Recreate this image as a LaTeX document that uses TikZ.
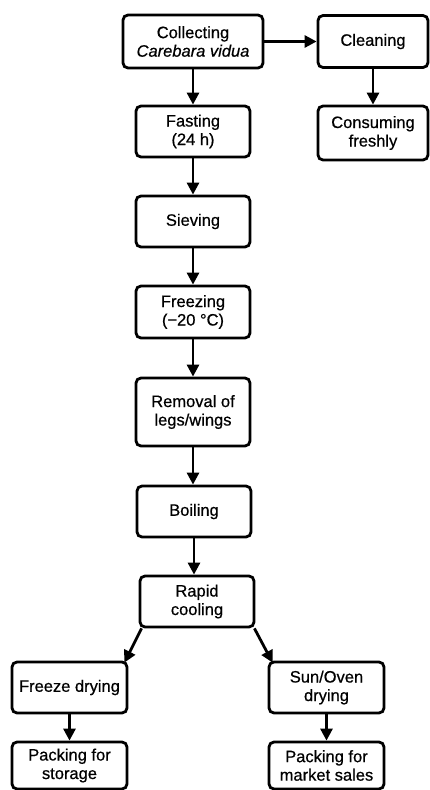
\documentclass[tikz,border=0pt]{standalone}
\usepackage{fontspec}
\setmainfont[FakeBold=0.6,AutoFakeBold=0.6]{Liberation Sans}
\newfontfamily\boxfont[FakeBold=0.6,AutoFakeSlant=0.2]{Liberation Sans}
\usetikzlibrary{arrows.meta}
\begin{document}
\begin{tikzpicture}[x=1pt,y=-1pt,
 box/.style={draw,line width=2.8pt,rounded corners=5pt,align=center,
   font=\fontsize{16.5}{18.5}\selectfont\bfseries,inner sep=0pt},
 arr/.style={line width=2.8pt,-{Triangle[length=12pt,width=12pt]}}]
\useasboundingbox (0,0) rectangle (430,790);
\node[box,minimum width=140,minimum height=53] (collect) at (193,41.5) {Collecting\\\textit{Carebara vidua}};
\node[box,minimum width=110,minimum height=52] (clean) at (373,41.5) {Cleaning};
\node[box,minimum width=110,minimum height=54] (consume) at (373,133) {Consuming\\freshly};
\node[box,minimum width=114,minimum height=51] (fast) at (193,131.5) {Fasting\\(24 h)};
\node[box,minimum width=114,minimum height=51] (sieve) at (193,221.5) {Sieving};
\node[box,minimum width=114,minimum height=52] (freeze) at (193,312) {Freezing\\(−20 °C)};
\node[box,minimum width=114,minimum height=68] (remove) at (193,412) {Removal of\\legs/wings};
\node[box,minimum width=114,minimum height=51] (boil) at (194,511.5) {Boiling};
\node[box,minimum width=114,minimum height=51] (rapid) at (197,601.5) {Rapid\\cooling};
\node[box,minimum width=115,minimum height=51] (fdry) at (69.5,687.5) {Freeze drying};
\node[box,minimum width=115,minimum height=51] (sun) at (326.5,687.5) {Sun/Oven\\drying};
\node[box,minimum width=115,minimum height=47] (pack1) at (69.5,765.5) {Packing for\\storage};
\node[box,minimum width=115,minimum height=47] (pack2) at (326.5,765.5) {Packing for\\market sales};
\draw[arr] (collect) -- (clean);
\draw[arr] (clean) -- (consume);
\draw[arr] (collect) -- (fast);
\draw[arr] (fast) -- (sieve);
\draw[arr] (sieve) -- (freeze);
\draw[arr] (freeze) -- (remove);
\draw[arr] (remove) -- (remove.south |- boil.north);
\draw[arr] (boil) -- (boil.south |- rapid.north);
\draw[arr] ([xshift=3pt]rapid.south west) -- ([xshift=-4pt,yshift=-2pt]fdry.north east);
\draw[arr] ([xshift=-1pt]rapid.south east) -- ([xshift=5pt,yshift=-2pt]sun.north west);
\draw[arr] (fdry) -- (pack1);
\draw[arr] (sun) -- (pack2);
\end{tikzpicture}
\end{document}
